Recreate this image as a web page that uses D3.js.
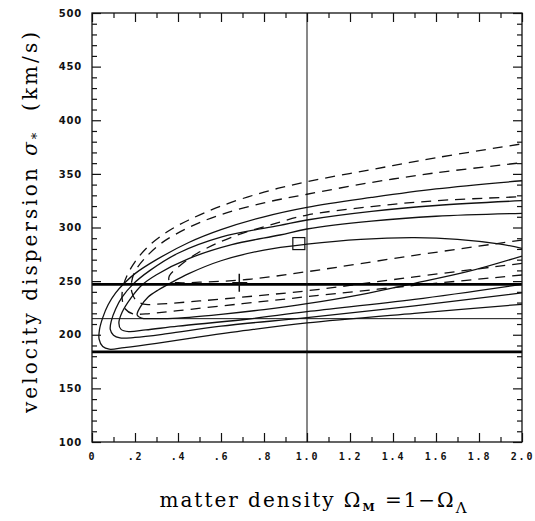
<!DOCTYPE html>
<meta charset="utf-8">
<script src="https://d3js.org/d3.v7.min.js"></script>
<style>
  body { margin: 0; background: #fff; }
  .ylab text { font-family: "DejaVu Sans", sans-serif; font-weight: bold; font-size: 10px; letter-spacing: 0.8px; }
  .xlab text { font-family: "DejaVu Sans Mono", monospace; font-weight: bold; font-size: 10px; letter-spacing: 1.8px; }
  .title { font-family: "DejaVu Serif", serif; font-size: 20px; white-space: pre; }
</style>
<div id="chart"></div>
<script>
// Axis ticks and labels
var xMajor = [0, 0.2, 0.4, 0.6, 0.8, 1.0, 1.2, 1.4, 1.6, 1.8, 2.0];
var xLabels = ["0", ".2", ".4", ".6", ".8", "1.0", "1.2", "1.4", "1.6", "1.8", "2.0"];
var xMinor = [0.1, 0.3, 0.5, 0.7, 0.9, 1.1, 1.3, 1.5, 1.7, 1.9];
var yMajor = [100, 150, 200, 250, 300, 350, 400, 450, 500];
var yMinor = d3.range(110, 500, 10).filter(function(v) { return v % 50 !== 0; });

// Reference lines: thick band limits, thin line, Omega = 1
var thickLines = [247, 184];
var thinLines = [215];
var vLines = [1.0];

// Solid contours, [omega, sigma], from lower branch round the tip to upper branch
var solid1 = [[2.0,228.4],[1.5,220],[1.0,211],[0.75,205],[0.5,198],[0.3,192],[0.15,188],[0.08,186.5],[0.05,189],[0.033,196],[0.035,205],[0.05,216],[0.075,228],[0.11,239],[0.15,248],[0.2,257],[0.3,270],[0.45,286],[0.6,298],[0.8,310],[1.0,318.8],[1.3,328],[1.6,336],[2.0,343.6]];
var solid2 = [[2.0,239],[1.5,227],[1.0,216],[0.6,208],[0.35,201],[0.2,197.5],[0.13,197],[0.1,199.5],[0.085,205],[0.09,213],[0.11,224],[0.14,235],[0.19,247],[0.27,260],[0.4,276],[0.6,291],[0.874,302],[1.0,307],[1.3,315],[1.6,320.5],[2.0,325]];
var solid3 = [[2.0,247],[1.5,233],[1.0,221.5],[0.7,214],[0.4,208],[0.25,204.5],[0.17,203],[0.135,205],[0.125,211],[0.14,221],[0.18,234],[0.23,246],[0.3,256],[0.45,271],[0.65,284],[0.874,293],[1.0,298.6],[1.3,306],[1.6,310.5],[2.0,313.2]];
var solid4 = [[2.0,273.4],[1.75,259],[1.5,248],[1.25,237.5],[1.0,229],[0.8,223.5],[0.6,219],[0.4,215.5],[0.28,215],[0.23,215.5],[0.21,218.5],[0.225,226],[0.26,235],[0.31,242],[0.363,248],[0.45,257],[0.6,269],[0.8,279],[1.0,284.5],[1.25,289],[1.5,290.5],[1.7,289],[1.9,284.5],[2.0,280.6]];

// Dashed contours
var dashed1 = [[2.0,255.7],[1.5,246],[1.0,235.5],[0.7,229],[0.4,222.5],[0.25,219.5],[0.19,219.5],[0.155,224],[0.14,234],[0.145,245],[0.165,256],[0.2,268],[0.26,282],[0.35,296],[0.45,307],[0.6,320],[0.8,333],[1.0,342.7],[1.3,354],[1.6,365],[2.0,378]];
var dashed2 = [[2.0,266.6],[1.5,254],[1.0,241],[0.75,236],[0.5,231.5],[0.3,228.5],[0.24,228.5],[0.205,232],[0.185,240],[0.185,250],[0.2,259],[0.24,270],[0.32,285],[0.45,300],[0.6,312],[0.8,323],[1.0,331],[1.3,342],[1.6,351],[2.0,360.4]];
var dashed3 = [[2.0,288.3],[1.5,274],[1.0,258.8],[0.72,251.5],[0.5,249],[0.4,248.5],[0.36,250],[0.36,255],[0.4,263],[0.49,276],[0.65,291],[0.874,305],[1.0,311.6],[1.3,319.5],[1.6,325],[2.0,328.7]];

// Markers
var squarePoint = [0.962, 285];
var plusPoint = [0.685, 248.5];

var solidCurves = [solid1, solid2, solid3, solid4];
var dashedCurves = [dashed1, dashed2, dashed3];

var W = 535, H = 521;
var x = d3.scaleLinear().domain([0, 2]).range([92, 522]);
var y = d3.scaleLinear().domain([100, 500]).range([442, 13]);

var svg = d3.select("#chart").append("svg")
    .attr("width", W)
    .attr("height", H);

var plot = svg.append("g");

// clip so contours stop at the frame
svg.append("clipPath").attr("id", "clip")
    .append("rect")
    .attr("x", x(0)).attr("y", y(500))
    .attr("width", x(2) - x(0)).attr("height", y(100) - y(500));

var inner = plot.append("g").attr("clip-path", "url(#clip)");

var line = d3.line()
    .x(function(d) { return x(d[0]); })
    .y(function(d) { return y(d[1]); })
    .curve(d3.curveCatmullRom.alpha(0.5));

inner.selectAll(".solid")
    .data(solidCurves)
    .enter().append("path")
    .attr("class", "solid")
    .attr("d", line)
    .attr("fill", "none")
    .attr("stroke", "#111")
    .attr("stroke-width", 1.3);

inner.selectAll(".dashed")
    .data(dashedCurves)
    .enter().append("path")
    .attr("class", "dashed")
    .attr("d", line)
    .attr("fill", "none")
    .attr("stroke", "#111")
    .attr("stroke-width", 1.3)
    .attr("stroke-dasharray", "10,7");

inner.selectAll(".thick")
    .data(thickLines)
    .enter().append("line")
    .attr("x1", x(0)).attr("x2", x(2))
    .attr("y1", y).attr("y2", y)
    .attr("stroke", "#000")
    .attr("stroke-width", 2.8);

inner.selectAll(".thin")
    .data(thinLines)
    .enter().append("line")
    .attr("x1", x(0)).attr("x2", x(2))
    .attr("y1", y).attr("y2", y)
    .attr("stroke", "#111")
    .attr("stroke-width", 1);

inner.selectAll(".vline")
    .data(vLines)
    .enter().append("line")
    .attr("x1", x).attr("x2", x)
    .attr("y1", y(100)).attr("y2", y(500))
    .attr("stroke", "#111")
    .attr("stroke-width", 1);

// square and plus markers
inner.append("rect")
    .attr("x", x(squarePoint[0]) - 6)
    .attr("y", y(squarePoint[1]) - 6)
    .attr("width", 12).attr("height", 12)
    .attr("fill", "none")
    .attr("stroke", "#111")
    .attr("stroke-width", 1.2);

var px = x(plusPoint[0]), py = y(plusPoint[1]);
inner.append("path")
    .attr("d", "M" + (px - 7) + "," + py + "H" + (px + 8) + "M" + px + "," + (py - 9) + "V" + (py + 9))
    .attr("stroke", "#111")
    .attr("stroke-width", 1.5);

// frame ticks on all four sides, pointing inward
function addAxis(axis, transform, cls) {
    return plot.append("g")
        .attr("class", cls)
        .attr("transform", transform)
        .call(axis)
        .call(function(g) { g.select(".domain").remove(); });
}

addAxis(d3.axisLeft(y).tickValues(yMinor).tickSize(-5).tickFormat(""), "translate(" + x(0) + ",0)", "ymin");
addAxis(d3.axisRight(y).tickValues(yMinor).tickSize(-5).tickFormat(""), "translate(" + x(2) + ",0)", "ymin");
addAxis(d3.axisRight(y).tickValues(yMajor).tickSize(-9).tickFormat(""), "translate(" + x(2) + ",0)", "ymaj");
addAxis(d3.axisLeft(y).tickValues(yMajor).tickSize(-9).tickPadding(10), "translate(" + x(0) + ",0)", "ylab");

addAxis(d3.axisBottom(x).tickValues(xMinor).tickSize(-5).tickFormat(""), "translate(0," + y(100) + ")", "xmin");
addAxis(d3.axisTop(x).tickValues(xMinor).tickSize(-5).tickFormat(""), "translate(0," + y(500) + ")", "xmin");
addAxis(d3.axisTop(x).tickValues(xMajor).tickSize(-9).tickFormat(""), "translate(0," + y(500) + ")", "xmaj");
addAxis(d3.axisBottom(x).tickValues(xMajor).tickSize(-9).tickPadding(11)
    .tickFormat(function(d, i) { return xLabels[i]; }), "translate(0," + y(100) + ")", "xlab");

plot.selectAll(".tick line").attr("stroke", "#111").attr("stroke-width", 1.2);
plot.selectAll(".tick text").attr("fill", "#111");

plot.append("rect")
    .attr("x", x(0)).attr("y", y(500))
    .attr("width", x(2) - x(0)).attr("height", y(100) - y(500))
    .attr("fill", "none")
    .attr("stroke", "#111")
    .attr("stroke-width", 1.3);

// axis titles
var yTitle = svg.append("text")
    .attr("class", "title")
    .attr("transform", "translate(37,222.5) rotate(-90)")
    .attr("text-anchor", "middle")
    .attr("textLength", 381)
    .attr("lengthAdjust", "spacing");
yTitle.append("tspan").text("velocity dispersion ");
yTitle.append("tspan").attr("font-style", "italic").text("σ");
yTitle.append("tspan").attr("font-size", "13px").attr("dy", 4).text("*");
yTitle.append("tspan").attr("dy", -4).text("  (km/s)");

var xTitle = svg.append("text")
    .attr("class", "title")
    .attr("x", 313)
    .attr("y", 507)
    .attr("text-anchor", "middle")
    .attr("textLength", 307)
    .attr("lengthAdjust", "spacing");
xTitle.append("tspan").text("matter density Ω");
xTitle.append("tspan").attr("font-size", "11px").attr("font-weight", "bold").attr("dy", 4).text("M");
xTitle.append("tspan").attr("dy", -4).text(" =1−Ω");
xTitle.append("tspan").attr("font-size", "15px").attr("dy", 6).text("Λ");
</script>
